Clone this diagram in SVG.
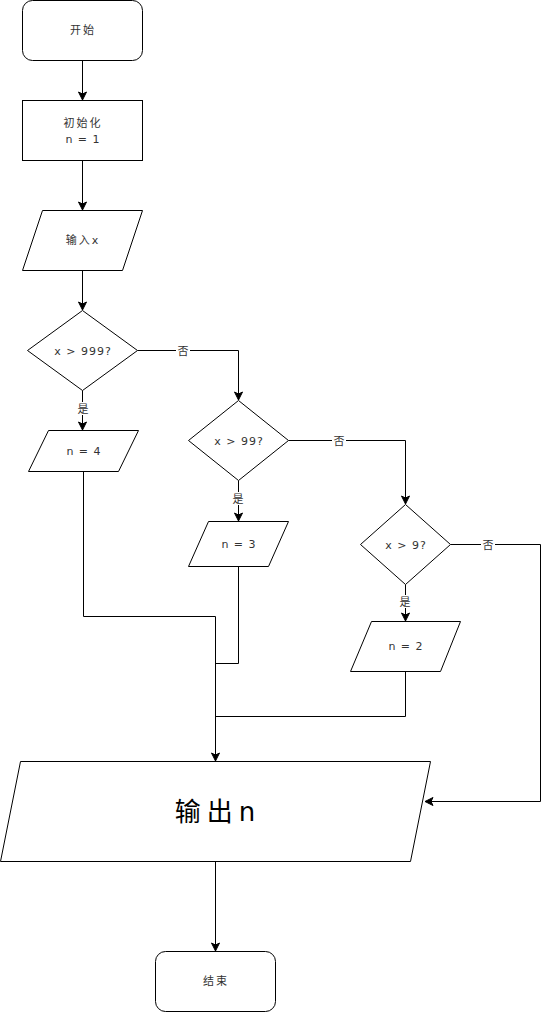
<svg xmlns="http://www.w3.org/2000/svg" width="549" height="1013" viewBox="0 0 549 1013">
<style>
.shape{fill:#fff;stroke:#000;stroke-width:1}
.t{font-family:"DejaVu Sans","Noto Sans CJK SC",sans-serif;font-size:11px;fill:#333;text-anchor:middle;dominant-baseline:central;letter-spacing:2px}
.tl{font-family:"DejaVu Sans","Noto Sans CJK SC",sans-serif;font-size:11px;fill:#333;text-anchor:middle;dominant-baseline:central;letter-spacing:1px}
.big{font-family:"DejaVu Sans","Noto Sans CJK SC",sans-serif;font-size:26px;fill:#000;text-anchor:middle;dominant-baseline:central;letter-spacing:6px}
.lbl{font-family:"DejaVu Sans","Noto Sans CJK SC",sans-serif;font-size:11px;fill:#333;text-anchor:middle;dominant-baseline:central}
.edge{fill:none;stroke:#000;stroke-width:1}
</style>
<defs>
<marker id="arr" markerWidth="10" markerHeight="10" viewBox="0 0 10 10" refX="9" refY="5" orient="auto" markerUnits="userSpaceOnUse">
<path d="M1,1 L9,5 L1,9 L3,5 Z" fill="#000" stroke="#000" stroke-width="1"/>
</marker>
</defs>
<rect width="549" height="1013" fill="#fff"/>
<g id="connectors">
<path class="edge" d="M82.5,60.5 V100" marker-end="url(#arr)"/>
<path class="edge" d="M82.5,160.5 V210" marker-end="url(#arr)"/>
<path class="edge" d="M82.5,270.5 V310" marker-end="url(#arr)"/>
<path class="edge" d="M137.5,350.5 H238.5 V400" marker-end="url(#arr)"/>
<path class="edge" d="M82.5,390.5 V430" marker-end="url(#arr)"/>
<path class="edge" d="M288.5,440.5 H405.5 V504" marker-end="url(#arr)"/>
<path class="edge" d="M238.5,480.5 V521" marker-end="url(#arr)"/>
<path class="edge" d="M405.5,584.5 V621" marker-end="url(#arr)"/>
<path class="edge" d="M450.5,544.5 H540.5 V801.5 H425" marker-end="url(#arr)"/>
<path class="edge" d="M83.5,471.5 V616.5 H215.5 V761" marker-end="url(#arr)"/>
<path class="edge" d="M238.5,566.5 V663.5 H215.5"/>
<path class="edge" d="M405.5,671.5 V716.5 H215.5"/>
<path class="edge" d="M215.5,861.5 V951" marker-end="url(#arr)"/>
<rect x="176" y="344" width="14" height="13" fill="#fff"/>
<text class="lbl" x="183" y="351">否</text>
<rect x="76" y="402" width="14" height="13" fill="#fff"/>
<text class="lbl" x="83" y="409">是</text>
<rect x="332" y="434" width="14" height="13" fill="#fff"/>
<text class="lbl" x="339" y="441">否</text>
<rect x="231" y="492" width="14" height="13" fill="#fff"/>
<text class="lbl" x="238" y="499">是</text>
<rect x="481" y="538" width="14" height="13" fill="#fff"/>
<text class="lbl" x="488" y="545">否</text>
<rect x="398" y="595" width="14" height="13" fill="#fff"/>
<text class="lbl" x="405" y="602">是</text>
</g>
<g id="start">
<rect class="shape" x="22.5" y="0.5" width="120" height="60" rx="10" ry="10"/>
<text class="t" x="83" y="30">开始</text>
</g>
<g id="init">
<rect class="shape" x="22.5" y="100.5" width="120" height="60"/>
<text class="t" x="83" y="123">初始化</text>
<text class="tl" x="83" y="139">n = 1</text>
</g>
<g id="input">
<path class="shape" d="M42.5,210.5 H142.5 L122.5,270.5 H22.5 Z"/>
<text class="t" x="83" y="240">输入x</text>
</g>
<g id="dec1">
<path class="shape" d="M82.5,310.5 L137.5,350.5 L82.5,390.5 L27.5,350.5 Z"/>
<text class="tl" x="83" y="351">x &gt; 999?</text>
</g>
<g id="n4">
<path class="shape" d="M48.5,430.5 H138.5 L118.5,471.5 H28.5 Z"/>
<text class="tl" x="84" y="451">n = 4</text>
</g>
<g id="dec2">
<path class="shape" d="M238.5,400.5 L288.5,440.5 L238.5,480.5 L188.5,440.5 Z"/>
<text class="tl" x="239" y="441">x &gt; 99?</text>
</g>
<g id="n3">
<path class="shape" d="M208.5,521.5 H288.5 L268.5,566.5 H188.5 Z"/>
<text class="tl" x="239" y="544">n = 3</text>
</g>
<g id="dec3">
<path class="shape" d="M405.5,504.5 L450.5,544.5 L405.5,584.5 L360.5,544.5 Z"/>
<text class="tl" x="406" y="545">x &gt; 9?</text>
</g>
<g id="n2">
<path class="shape" d="M371.5,621.5 H460.5 L440.5,671.5 H350.5 Z"/>
<text class="tl" x="406" y="646">n = 2</text>
</g>
<g id="output">
<path class="shape" d="M20.5,761.5 H430.5 L410.5,861.5 H0.5 Z"/>
<text class="big" x="218" y="812">输出n</text>
</g>
<g id="end">
<rect class="shape" x="155.5" y="951.5" width="120" height="60" rx="10" ry="10"/>
<text class="t" x="216" y="981">结束</text>
</g>
</svg>
